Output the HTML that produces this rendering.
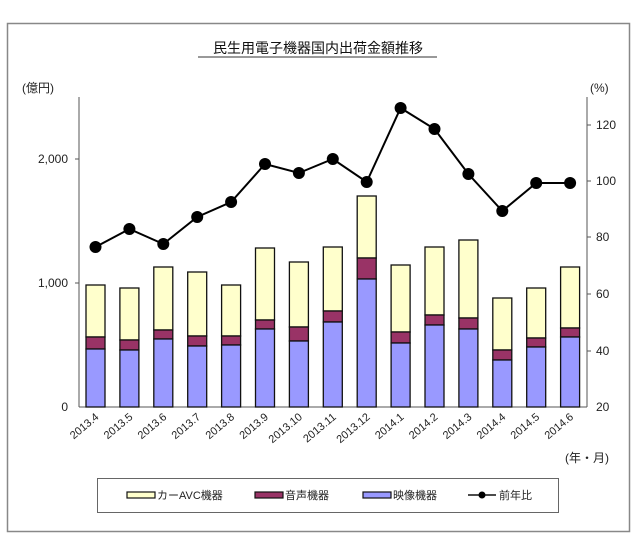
<!DOCTYPE html>
<html><head><meta charset="utf-8"><style>
html,body{margin:0;padding:0;background:#fff}
svg{display:block}
text{font-family:"Liberation Sans","Noto Sans CJK JP",sans-serif;fill:#222}
</style></head><body>
<svg width="640" height="544" viewBox="0 0 640 544" xmlns="http://www.w3.org/2000/svg">
<rect x="7.5" y="23.5" width="622" height="508" fill="#fff" stroke="#888" stroke-width="1.5"/>
<text x="318" y="53" font-size="14" text-anchor="middle" style="fill:#111">民生用電子機器国内出荷金額推移</text>
<line x1="198" y1="57" x2="437" y2="57" stroke="#333" stroke-width="1"/>
<text x="22" y="92" font-size="12">(億円)</text>
<text x="590" y="92" font-size="12">(%)</text>
<g stroke="#555" stroke-width="1">
<line x1="79" y1="97" x2="79" y2="407"/>
<line x1="587" y1="97" x2="587" y2="407"/>
<line x1="79" y1="407" x2="587" y2="407"/>
<line x1="75" y1="159" x2="79" y2="159"/><line x1="75" y1="283" x2="79" y2="283"/>
<line x1="587" y1="125" x2="591" y2="125"/><line x1="587" y1="181" x2="591" y2="181"/>
<line x1="587" y1="237" x2="591" y2="237"/><line x1="587" y1="294" x2="591" y2="294"/>
<line x1="587" y1="351" x2="591" y2="351"/>
</g>
<g font-size="12" text-anchor="end">
<text x="68" y="163">2,000</text><text x="68" y="287">1,000</text><text x="68" y="411">0</text>
</g>
<g font-size="12">
<text x="596" y="129">120</text><text x="596" y="185">100</text><text x="596" y="241">80</text>
<text x="596" y="298">60</text><text x="596" y="355">40</text><text x="596" y="411">20</text>
</g>
<g id="bars" stroke="#111" stroke-width="1.3"></g>
<g id="line"></g>
<g id="labels" font-size="11" text-anchor="end"></g>
<text x="565" y="462" font-size="12">(年・月)</text>
<rect x="97.5" y="478.5" width="461" height="34" fill="#fff" stroke="#666"/>
<g stroke="#111" stroke-width="1.2">
<rect x="127" y="492" width="28" height="6" fill="#ffffcc"/>
<rect x="255" y="492" width="28" height="6" fill="#993366"/>
<rect x="363" y="492" width="28" height="6" fill="#9999ff"/>
<line x1="468" y1="495" x2="496" y2="495" stroke-width="1.5"/>
</g>
<circle cx="482" cy="495" r="3.5" fill="#000"/>
<g font-size="11">
<text x="157" y="499">カーAVC機器</text>
<text x="285" y="499">音声機器</text>
<text x="393" y="499">映像機器</text>
<text x="499" y="499">前年比</text>
</g>
<script>
var tops=[285,288,267,272,285,248,262,247,196,265,247,240,298,288,267];
var reds=[337,340,330,336,336,320,327,311,258,332,315,318,350,338,328];
var blues=[349,350,339,346,345,329,341,322,279,343,325,329,360,347,337];
var ly=[247,229,244,217,202,164,173,159,182,108,129,174,211,183,183];
var labs=["2013.4","2013.5","2013.6","2013.7","2013.8","2013.9","2013.10","2013.11","2013.12","2014.1","2014.2","2014.3","2014.4","2014.5","2014.6"];
var ns="http://www.w3.org/2000/svg",b=document.getElementById("bars"),l=document.getElementById("line"),lb=document.getElementById("labels");
function el(t,a,p){var e=document.createElementNS(ns,t);for(var k in a)e.setAttribute(k,a[k]);p.appendChild(e);return e;}
var pts=[];
for(var i=0;i<15;i++){var c=95.5+i*33.9,x=c-9.5;
el("rect",{x:x,y:tops[i],width:19,height:reds[i]-tops[i],fill:"#ffffcc"},b);
el("rect",{x:x,y:reds[i],width:19,height:blues[i]-reds[i],fill:"#993366"},b);
el("rect",{x:x,y:blues[i],width:19,height:407-blues[i],fill:"#9999ff"},b);
pts.push(c+","+ly[i]);
var t=el("text",{x:c+4,y:418,transform:"rotate(-40 "+(c+4)+" 418)"},lb);t.textContent=labs[i];
}
el("polyline",{points:pts.join(" "),fill:"none",stroke:"#000","stroke-width":2},l);
for(var i=0;i<15;i++)el("circle",{cx:95.5+i*33.9,cy:ly[i],r:6,fill:"#000"},l);
</script>
</svg>
</body></html>
